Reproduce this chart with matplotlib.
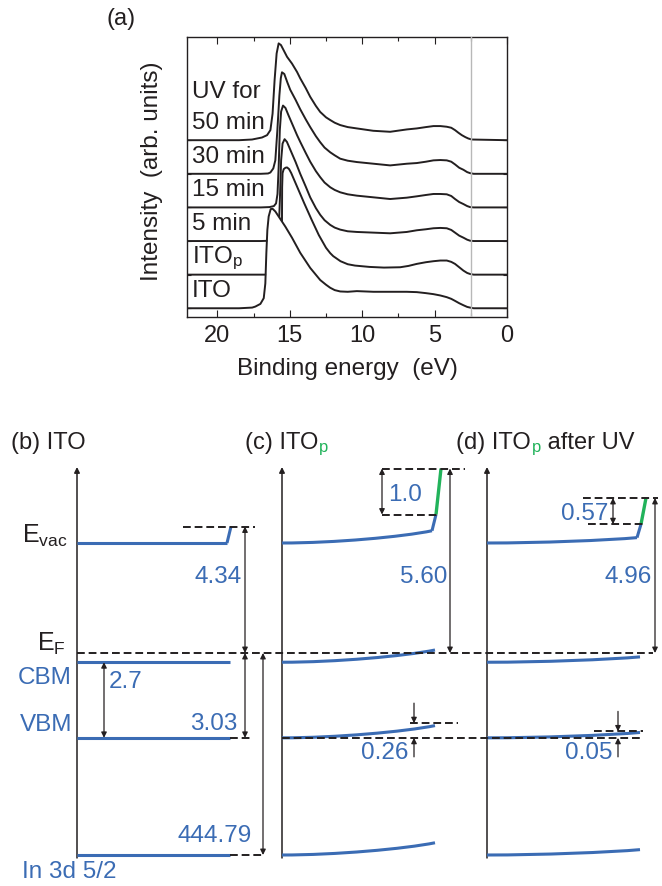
import matplotlib.pyplot as plt
from matplotlib.path import Path
from matplotlib.patches import PathPatch

plt.rcParams['font.family'] = ['Liberation Sans', 'DejaVu Sans']
plt.rcParams['mathtext.fontset'] = 'custom'
plt.rcParams['mathtext.rm'] = 'Liberation Sans'
plt.rcParams['mathtext.it'] = 'Liberation Sans:italic'
plt.rcParams['mathtext.bf'] = 'Liberation Sans:bold'

INK = '#231f20'
BLUE = '#3b6cb4'
GREEN = '#22b35b'
GRAY = '#b8b8b8'

# ---- (a) UPS secondary-electron cutoff, binding energy (eV) / intensity
names = ['ITO', r'ITO$_\mathrm{p}$', '5 min', '15 min', '30 min', '50 min']
offsets = [0, 1, 2, 3, 4, 5]

ito_E = [22.1, 18.5, 17.6, 17.38, 17.03, 16.8, 16.69, 16.62, 16.55, 16.46,
         16.32, 16.19, 16.0, 15.77, 15.31, 14.85, 14.28, 13.59, 12.9, 12.5,
         12.21, 11.9, 11.52, 11.0, 10.37, 9.22, 8.07, 6.92, 6.23, 5.6,
         5.08, 4.6, 4.16, 3.85, 3.59, 3.3, 3.01, 2.75, 2.55, 2.3, 0.0]
ito_I = [0.0, 0.0, 0.02, 0.05, 0.13, 0.30, 0.74, 1.64, 2.33, 2.73,
         2.95, 2.96, 2.88, 2.73, 2.43, 2.10, 1.65, 1.20, 0.84, 0.70,
         0.61, 0.54, 0.50, 0.49, 0.51, 0.49, 0.49, 0.49, 0.48, 0.45,
         0.42, 0.38, 0.33, 0.28, 0.22, 0.15, 0.09, 0.04, 0.02, 0.0, 0.0]

itop_E = [22.1, 17.0, 15.8, 15.6, 15.56, 15.545, 15.53, 15.5, 15.42, 15.3,
          15.19, 15.05, 14.9, 14.7, 14.5, 14.0, 13.5, 13.0, 12.5, 12.21,
          12.0, 11.5, 11.0, 10.5, 9.5, 8.5, 7.38, 6.8, 6.23, 5.6,
          5.08, 4.6, 4.16, 3.85, 3.59, 3.3, 3.01, 2.75, 2.55, 2.3, 0.0]
itop_I = [0.0, 0.0, 0.0, 0.02, 0.15, 1.2, 2.6, 3.02, 3.14, 3.18,
          3.19, 3.14, 3.02, 2.82, 2.62, 2.12, 1.64, 1.18, 0.80, 0.64,
          0.55, 0.40, 0.31, 0.27, 0.23, 0.21, 0.22, 0.26, 0.32, 0.37,
          0.40, 0.42, 0.42, 0.38, 0.32, 0.22, 0.12, 0.05, 0.02, 0.0, 0.0]

uv5_E = [22.1, 17.0, 16.3, 16.0, 15.85, 15.75, 15.68, 15.6, 15.5, 15.36,
         15.2, 15.0, 14.6, 14.28, 13.9, 13.59, 13.2, 12.9, 12.6, 12.21,
         11.9, 11.52, 11.0, 10.37, 9.22, 8.07, 6.92, 6.23, 5.6, 5.08,
         4.6, 4.16, 3.85, 3.59, 3.3, 3.01, 2.75, 2.55, 2.3, 0.0]
uv5_I = [0.0, 0.0, 0.01, 0.04, 0.12, 0.45, 1.3, 2.4, 2.9, 3.03,
         2.95, 2.75, 2.35, 2.0, 1.62, 1.3, 0.98, 0.78, 0.62, 0.48,
         0.40, 0.34, 0.29, 0.27, 0.25, 0.23, 0.27, 0.32, 0.35, 0.38,
         0.39, 0.38, 0.33, 0.25, 0.16, 0.10, 0.04, 0.01, 0.0, 0.0]

uv15_E = [22.1, 17.0, 16.4, 16.1, 15.95, 15.85, 15.77, 15.69, 15.6, 15.47,
          15.3, 15.1, 14.8, 14.5, 14.28, 13.9, 13.59, 13.2, 12.9, 12.6,
          12.21, 11.9, 11.52, 11.0, 10.37, 9.22, 8.07, 6.92, 6.23, 5.6,
          5.08, 4.6, 4.16, 3.85, 3.59, 3.3, 3.01, 2.75, 2.55, 2.3, 0.0]
uv15_I = [0.0, 0.0, 0.01, 0.04, 0.12, 0.4, 1.2, 2.3, 2.85, 3.03,
          2.96, 2.75, 2.45, 2.15, 1.95, 1.62, 1.36, 1.08, 0.90, 0.74,
          0.60, 0.52, 0.45, 0.39, 0.35, 0.30, 0.25, 0.29, 0.33, 0.37,
          0.40, 0.40, 0.39, 0.34, 0.25, 0.16, 0.10, 0.04, 0.01, 0.0, 0.0]

uv30_E = [22.1, 17.0, 16.5, 16.34, 16.14, 16.0, 15.86, 15.72, 15.62, 15.54,
          15.38, 15.17, 14.97, 14.6, 14.28, 13.9, 13.59, 13.2, 12.9, 12.6,
          12.21, 11.9, 11.52, 11.0, 10.37, 9.22, 8.07, 6.92, 6.23, 5.6,
          5.08, 4.6, 4.16, 3.85, 3.59, 3.3, 3.01, 2.75, 2.55, 2.3, 0.0]
uv30_I = [0.0, 0.0, 0.01, 0.04, 0.16, 0.4, 1.29, 2.33, 2.85, 3.02,
          2.97, 2.72, 2.5, 2.2, 1.92, 1.62, 1.39, 1.12, 0.94, 0.78,
          0.64, 0.55, 0.45, 0.39, 0.35, 0.30, 0.25, 0.30, 0.32, 0.36,
          0.40, 0.41, 0.40, 0.36, 0.28, 0.18, 0.12, 0.05, 0.02, 0.0, 0.0]

uv50_E = [22.1, 18.5, 17.61, 16.92, 16.57, 16.34, 16.19, 16.05, 15.91, 15.77,
          15.61, 15.43, 15.19, 14.85, 14.5, 14.28, 13.9, 13.59, 13.2, 12.9,
          12.5, 12.21, 11.9, 11.52, 11.0, 10.37, 9.24, 8.07, 6.92, 6.23,
          5.6, 5.08, 4.6, 4.16, 3.85, 3.59, 3.35, 3.12, 2.87, 2.67,
          2.43, 0.0]
uv50_I = [0.0, 0.0, 0.02, 0.08, 0.15, 0.30, 0.79, 1.79, 2.58, 2.88,
          2.83, 2.68, 2.48, 2.28, 2.03, 1.84, 1.55, 1.29, 1.02, 0.84,
          0.68, 0.60, 0.52, 0.45, 0.39, 0.35, 0.28, 0.25, 0.32, 0.35,
          0.39, 0.42, 0.42, 0.40, 0.37, 0.30, 0.22, 0.15, 0.09, 0.05,
          0.02, 0.0]

spectra = [(ito_E, ito_I), (itop_E, itop_I), (uv5_E, uv5_I),
           (uv15_E, uv15_I), (uv30_E, uv30_I), (uv50_E, uv50_I)]
fermi_mark = 2.5

# ---- (b)-(d) energy level values (eV)
panel_titles = ['(b) ITO', '(c) ITO', '(d) ITO']
work_fn = [4.34, 5.60, 4.96]
dipole = [0.0, 1.0, 0.57]
bending = [0.0, 0.26, 0.05]
vbm = 3.03
gap = 2.7
core = 444.79

W, H = 662, 886
fig = plt.figure(figsize=(W / 100, H / 100), dpi=100)

# ------------------------------------------------------------------ (a)
ax = fig.add_axes([187 / W, 1 - 317 / H, 320 / W, 280 / H])
for k in range(len(spectra) - 1, -1, -1):
    E, I = spectra[k]
    base = offsets[k]
    y = [base + v for v in I]
    z = 10 - k
    # white fill so the lower traces hide the ones behind them
    ax.fill_between(E, base, y, color='white', lw=0, zorder=z)
    ax.plot(E, y, color=INK, lw=1.4, zorder=z, solid_joinstyle='round')
    ax.text(21.75, base + 0.33, names[k], fontsize=17.5, color=INK,
            ha='left', va='baseline', zorder=30)
ax.text(21.75, offsets[-1] + 1.25, 'UV for', fontsize=17.5, color=INK,
        ha='left', va='baseline', zorder=30)
ax.axvline(fermi_mark, color=GRAY, lw=1.0, zorder=25)

ax.set_xlim(22.1, 0)
ax.set_ylim(-0.26, 8.07)
ax.set_xticks([20, 15, 10, 5, 0])
ax.set_xticks([17.5, 12.5, 7.5, 2.5], minor=True)
ax.set_yticks(offsets)
ax.set_yticklabels([])
ax.tick_params(which='major', direction='in', top=True, right=True,
               length=5, width=0.8, color=INK, labelsize=17, pad=6,
               labelcolor=INK)
ax.tick_params(which='minor', direction='in', top=True, right=True,
               length=3, width=0.8, color=INK)
ax.tick_params(axis='y', length=3)
for s in ax.spines.values():
    s.set_linewidth(1.0)
    s.set_color(INK)
ax.set_xlabel('Binding energy  (eV)', fontsize=17.5, color=INK, labelpad=8)
ax.set_ylabel('Intensity  (arb. units)', fontsize=17.5, color=INK)
ax.yaxis.set_label_coords(-0.075, 0.52)
fig.text(107 / W, 1 - 25 / H, '(a)', fontsize=17, color=INK, va='baseline')

# ------------------------------------------------------------------ (b)-(d)
cv = fig.add_axes([0, 0, 1, 466 / H])
cv.set_xlim(0, W)
cv.set_ylim(H, 420)
cv.axis('off')

# diagram layout (canvas pixels); the vacuum side and the core level are
# drawn on broken scales, band edges on a linear one
PANEL_X = [77, 282, 487]
TITLE_X = [11, 245, 456]
AXIS_TOP, AXIS_BOT = 467, 858
LEVEL_LEN = 153
EF_Y = 653
EVAC_Y = 543
CORE_Y = 855
VAC_PX, VAC_BREAK = 46.0, 1.59
BAND_PX = 28.0
TITLE_Y = 449


def vac_y(e):
    return EF_Y - VAC_PX * (e - VAC_BREAK)


def band_y(e):
    return EF_Y + BAND_PX * e


def bend_px(b):
    return 24.0 * b ** 0.5


def arrow(x, y0, y1, both=True, lw=0.9):
    cv.annotate('', xy=(x, y1), xytext=(x, y0),
                arrowprops=dict(arrowstyle='<|-|>' if both else '-|>',
                                color=INK, lw=lw, shrinkA=0, shrinkB=0,
                                mutation_scale=8))


def dashed(x0, x1, y):
    cv.plot([x0, x1], [y, y], color=INK, lw=1.4, ls=(0, (4, 2)),
            solid_capstyle='butt', dash_capstyle='butt', zorder=4)


def level(x0, y0, rise, length, color=BLUE):
    if rise == 0:
        cv.plot([x0, x0 + length], [y0, y0], color=color, lw=2.2,
                solid_capstyle='butt', zorder=3)
        return
    verts = [(x0, y0), (x0 + 0.35 * length, y0),
             (x0 + 0.8 * length, y0 - 0.5 * rise), (x0 + length, y0 - rise)]
    codes = [Path.MOVETO, Path.CURVE4, Path.CURVE4, Path.CURVE4]
    cv.add_patch(PathPatch(Path(verts, codes), fill=False, ec=color,
                           lw=2.2, capstyle='butt', zorder=3))


TXT = dict(fontsize=17.5, color=BLUE)
cbm_y = band_y(vbm - gap)
vbm_y = band_y(vbm)
top_dash = [(106, 178), (100, 183), (96, 171)]
low_dash = [None, (100, 155), (101, 158)]
dip_arrow = [None, 100, 126]
bend_mark = [None, (128, 176), (107, 156)]
bend_arrow = [None, 132, 131]

for p, x0 in enumerate(PANEL_X):
    arrow(x0, AXIS_BOT, AXIS_TOP, both=False, lw=1.1)
    A = bend_px(bending[p])
    wf_top = vac_y(work_fn[p])
    step_top = vac_y(work_fn[p] - dipole[p])

    # vacuum level: bulk line, surface step, dipole step (green)
    level(x0, EVAC_Y, A, 150)
    cv.plot([x0 + 150, x0 + 154], [EVAC_Y - A, step_top], color=BLUE,
            lw=2.2, solid_capstyle='butt', zorder=3)
    if dipole[p] > 0:
        cv.plot([x0 + 154, x0 + 159], [step_top, wf_top], color=GREEN,
                lw=2.4, solid_capstyle='butt', zorder=3)

    # band edges and core level
    for yy in (cbm_y, vbm_y, CORE_Y):
        level(x0, yy, A, LEVEL_LEN)

    # work function
    dashed(x0 + top_dash[p][0], x0 + top_dash[p][1], wf_top)
    xa = x0 + 168
    arrow(xa, wf_top, EF_Y)
    cv.text(xa - 3, 577, f'{work_fn[p]:.2f}', ha='right', va='center', **TXT)

    if dipole[p] > 0:
        dashed(x0 + low_dash[p][0], x0 + low_dash[p][1], step_top)
        xd = x0 + dip_arrow[p]
        arrow(xd, wf_top, step_top)
        lab = f'{dipole[p]:.1f}' if dipole[p] >= 1 else f'{dipole[p]:.2f}'
        ymid = 0.5 * (wf_top + step_top)
        if p == 1:
            cv.text(xd + 6, ymid + 3, lab, ha='left', va='center', **TXT)
        else:
            cv.text(xd - 5, ymid + 3, lab, ha='right', va='center', **TXT)

    if bending[p] > 0:
        ym = vbm_y - 1.2 * A
        dashed(x0 + bend_mark[p][0], x0 + bend_mark[p][1], ym)
        xb = x0 + bend_arrow[p]
        arrow(xb, ym - 20, ym, both=False)
        arrow(xb, vbm_y + 19, vbm_y, both=False)
        cv.text(xb - 6, 753, f'{bending[p]:.2f}', ha='right', va='center',
                **TXT)

    t = cv.text(TITLE_X[p], TITLE_Y, panel_titles[p], fontsize=17,
                color=INK, va='baseline')
    if p > 0:
        sub = cv.annotate('p', xy=(1, TITLE_Y), xycoords=(t, 'data'),
                          xytext=(0.5, -2.2), textcoords='offset points',
                          fontsize=12, color=GREEN, va='baseline')
        if p == 2:
            cv.annotate(' after UV', xy=(1, TITLE_Y), xycoords=(sub, 'data'),
                        fontsize=17, color=INK, va='baseline')

# Fermi level and the ITO reference arrows
x0 = PANEL_X[0]
dashed(x0, PANEL_X[2] + 166, EF_Y)
dashed(PANEL_X[1], PANEL_X[2] + 156, vbm_y)
dashed(x0 + LEVEL_LEN, x0 + 173, vbm_y)
dashed(x0 + LEVEL_LEN, x0 + 187, CORE_Y)
arrow(x0 + 27, cbm_y, vbm_y)
arrow(x0 + 168, EF_Y, vbm_y)
arrow(x0 + 186, EF_Y, CORE_Y)
cv.text(x0 + 32, 682, f'{gap}', ha='left', va='center', **TXT)
cv.text(x0 + 160, 724, f'{vbm:.2f}', ha='right', va='center', **TXT)
cv.text(x0 + 175, 836, f'{core:.2f}', ha='right', va='center', **TXT)

# level names
cv.text(68, EVAC_Y, r'$\mathrm{E_{vac}}$', fontsize=18, color=INK,
        ha='right', va='baseline')
cv.text(66, EF_Y - 2, r'$\mathrm{E_{F}}$', fontsize=18, color=INK,
        ha='right', va='baseline')
cv.text(72, 678, 'CBM', ha='right', va='center', **TXT)
cv.text(72, 725, 'VBM', ha='right', va='center', **TXT)
cv.text(22, 872, 'In 3d 5/2', ha='left', va='center', **TXT)

fig.savefig('out.png', dpi=100)
